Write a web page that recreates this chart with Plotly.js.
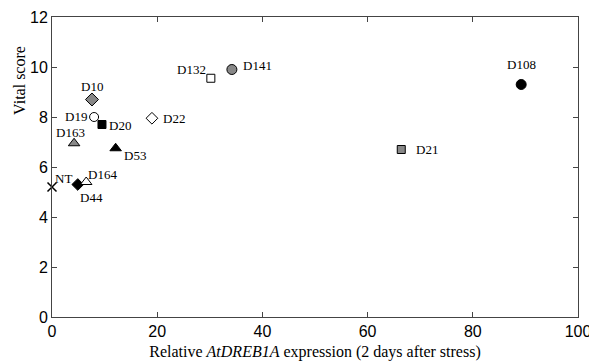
<!DOCTYPE html>
<html><head><meta charset="utf-8">
<script src="https://cdn.plot.ly/plotly-3.0.1.min.js"></script>
<style>html,body{margin:0;padding:0;background:#fff}#chart{width:589px;height:363px}</style>
</head><body><div id="chart"></div>
<script>
// Data
const lines = ['NT','D44','D164','D163','D19','D10','D20','D53','D22','D132','D141','D21','D108'];
const expression = [0, 4.9, 6.5, 4.2, 8.0, 7.6, 9.5, 12.1, 19.0, 30.2, 34.2, 66.4, 89.2];
const vitalScore = [5.2, 5.3, 5.4, 6.95, 8.0, 8.7, 7.7, 6.75, 7.95, 9.55, 9.9, 6.7, 9.3];
const xTicks = [0, 20, 40, 60, 80, 100];
const yTicks = [0, 2, 4, 6, 8, 10, 12];

// Styles (separate from data)
const symbols = ['x-thin-open','diamond','triangle-up','triangle-up','circle','diamond','square','triangle-up','diamond','square','circle','square','circle'];
const fills = ['#000','#000','#fff','#888','#fff','#888','#000','#000','#fff','#fff','#888','#888','#000'];
const sizes = [9,9,10,10,9,10,8,10,9,8,10,8,10];
// label placement: [xanchor, xshift, yshift]
const labelPos = [
  ['left',1,9],['center',14,-13],['left',0,8],['center',-4,11],['right',-5,1],['center',0,13],
  ['left',5,-1],['left',6,-7],['left',9,0],['right',-3,9],['left',9,4],['left',13,0],['center',0,20]
];

const trace = {
  x: expression, y: vitalScore, mode: 'markers', type: 'scatter',
  marker: {
    symbol: symbols, color: fills, size: sizes, opacity: 1,
    line: {color: '#000', width: symbols.map(s => s === 'x-thin-open' ? 1.5 : 1)}
  },
  cliponaxis: false, hoverinfo: 'skip'
};

const annotations = lines.map((name, i) => ({
  x: expression[i], y: vitalScore[i], xref: 'x', yref: 'y', text: name, showarrow: false,
  xanchor: labelPos[i][0], yanchor: 'middle', xshift: labelPos[i][1], yshift: labelPos[i][2],
  font: {family: 'Liberation Serif, serif', size: 13, color: '#000'}
}));
annotations.push({
  xref: 'paper', yref: 'paper', x: 0, y: 0.787, xshift: -32, textangle: -90,
  text: 'Vital score', showarrow: false, xanchor: 'center', yanchor: 'middle',
  font: {family: 'Liberation Serif, serif', size: 16, color: '#000'}
});

const axisCommon = {
  showgrid: false, zeroline: false, showline: true, linecolor: '#444', linewidth: 1,
  mirror: 'ticks', ticks: 'inside', ticklen: 5, tickcolor: '#444',
  ticklabeloverflow: 'allow',
  tickfont: {family: 'Liberation Sans, Arial, sans-serif', size: 16, color: '#000'}
};

const layout = {
  width: 589, height: 363,
  margin: {l: 52, r: 11, t: 17, b: 46},
  paper_bgcolor: '#fff', plot_bgcolor: '#fff',
  showlegend: false,
  xaxis: Object.assign({}, axisCommon, {
    range: [0, 100], tickvals: xTicks, ticktext: xTicks.map(String),
    title: {text: 'Relative <i>AtDREB1A</i> expression (2 days after stress)', standoff: 6,
      font: {family: 'Liberation Serif, serif', size: 16, color: '#000'}}
  }),
  yaxis: Object.assign({}, axisCommon, {
    range: [0, 12], tickvals: yTicks, ticktext: yTicks.map(String)
  }),
  annotations: annotations
};

Plotly.newPlot('chart', [trace], layout, {staticPlot: true, displayModeBar: false});
</script>
</body></html>
